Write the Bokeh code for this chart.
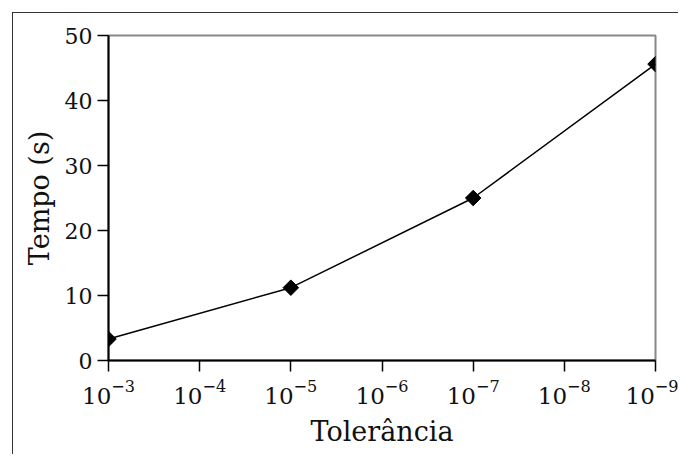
import math
from bokeh.plotting import figure
from bokeh.models import Range1d, FixedTicker, LogTickFormatter
from bokeh.embed import file_html
from bokeh.resources import INLINE

tolerance = [1e-3, 1e-5, 1e-7, 1e-9]
time_s = [3.3, 11.2, 25.0, 45.6]
x_ticks = [1e-3, 1e-4, 1e-5, 1e-6, 1e-7, 1e-8, 1e-9]
y_ticks = [0, 10, 20, 30, 40, 50]

FONT = "DejaVu Serif"

p = figure(width=666, height=442, output_backend="svg", toolbar_location=None,
           x_axis_type="log", x_range=Range1d(1e-3, 1e-9), y_range=Range1d(0, 50),
           min_border_left=95, min_border_right=24, min_border_top=22, min_border_bottom=95,
           margin=(12, 0, 0, 12),
           styles={"border-top": "1.5px solid #333", "border-left": "1.5px solid #333"})

p.xgrid.visible = False
p.ygrid.visible = False
p.outline_line_color = "#888888"
p.outline_line_width = 2
p.outline_line_alpha = 1.0

p.xaxis.ticker = FixedTicker(ticks=x_ticks)
p.xaxis.formatter = LogTickFormatter()
p.yaxis.ticker = FixedTicker(ticks=y_ticks)

for ax in (p.xaxis[0], p.yaxis[0]):
    ax.axis_line_color = "black"
    ax.axis_line_width = 2
    ax.major_tick_line_color = "black"
    ax.major_tick_line_width = 1.5
    ax.major_tick_out = 11
    ax.major_tick_in = 0
    ax.minor_tick_line_color = None
    ax.major_label_text_font = FONT
    ax.major_label_text_color = "#111111"
    ax.axis_label_text_font = FONT
    ax.axis_label_text_font_size = "27px"
    ax.axis_label_text_font_style = "normal"
    ax.axis_label_text_color = "#111111"

p.yaxis.major_label_text_font_size = "22px"
p.xaxis.major_label_text_font_size = "23px"
p.yaxis.major_label_standoff = 5
p.xaxis.major_label_standoff = 8
p.xaxis.axis_label = "Tolerância"
p.yaxis.axis_label = "Tempo (s)"
p.xaxis.axis_label_standoff = 9
p.yaxis.axis_label_standoff = 7

p.line(tolerance, time_s, line_color="black", line_width=1.5)
p.scatter(tolerance, time_s, marker="square", angle=math.pi / 4, size=11,
          fill_color="black", line_color="black")

open("out.html", "w").write(file_html(p, INLINE))
